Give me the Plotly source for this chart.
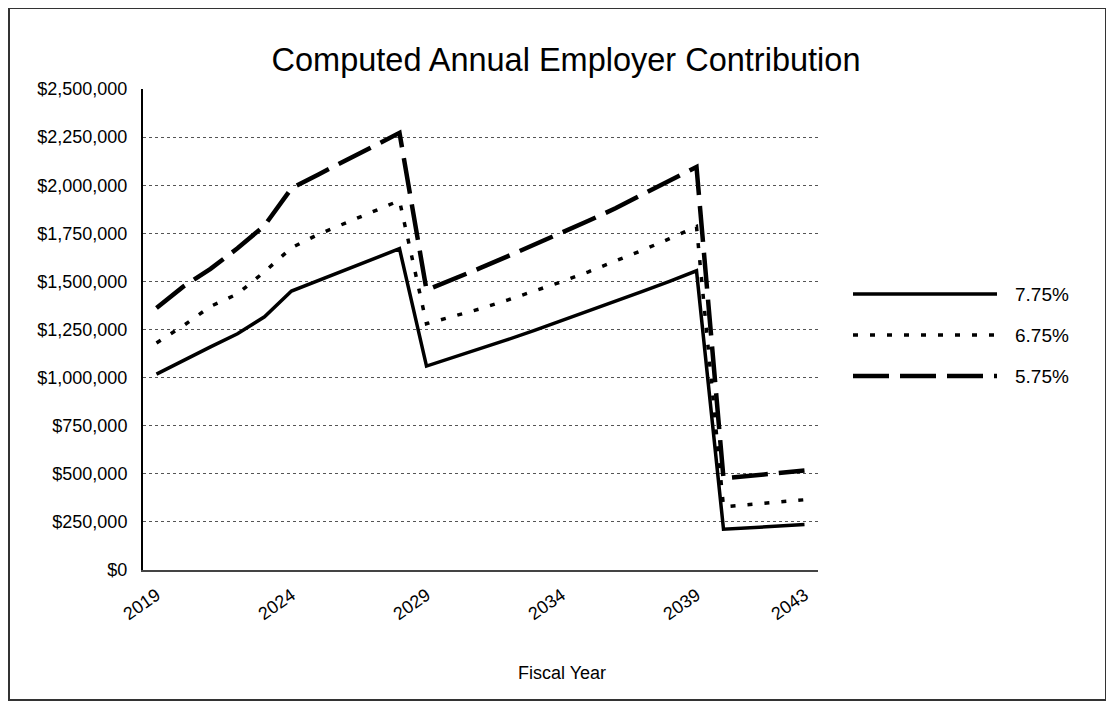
import plotly.graph_objects as go

# ---- data ----
years = [2019, 2020, 2021, 2022, 2023, 2024, 2025, 2026, 2027, 2028,
         2029, 2030, 2031, 2032, 2033, 2034, 2035, 2036, 2037, 2038,
         2039, 2040, 2041, 2042, 2043]

rate_775 = [1018000, 1090000, 1160000, 1228000, 1316000, 1450000, 1505000, 1560000, 1615000, 1670000,
            1060000, 1105000, 1150000, 1197000, 1245000, 1295000, 1345000, 1395000, 1448000, 1500000,
            1555000, 212000, 220000, 228000, 236000]

rate_675 = [1180000, 1270000, 1370000, 1435000, 1550000, 1675000, 1745000, 1805000, 1862000, 1920000,
            1280000, 1318000, 1358000, 1403000, 1450000, 1498000, 1550000, 1605000, 1662000, 1722000,
            1785000, 328000, 340000, 352000, 365000]

rate_575 = [1362000, 1474000, 1565000, 1672000, 1790000, 1984000, 2056000, 2128000, 2200000, 2272000,
            1455000, 1510000, 1570000, 1630000, 1690000, 1750000, 1815000, 1880000, 1950000, 2020000,
            2095000, 476000, 489000, 503000, 517000]

series_names = ["7.75%", "6.75%", "5.75%"]
x_tick_years = [2019, 2024, 2029, 2034, 2039, 2043]
y_tick_values = [0, 250000, 500000, 750000, 1000000, 1250000, 1500000,
                 1750000, 2000000, 2250000, 2500000]
title_text = "Computed Annual Employer Contribution"
x_title = "Fiscal Year"

# ---- styles ----
FONT = "Liberation Sans, Arial, sans-serif"
styles = [
    dict(color="black", width=3.5, dash="solid"),
    dict(color="black", width=3.5, dash="5px,12px"),
    dict(color="black", width=4.5, dash="36px,11px"),
]
series_values = [rate_775, rate_675, rate_575]

fig = go.Figure()
for name, vals, st in zip(series_names, series_values, styles):
    fig.add_trace(go.Scatter(x=years, y=vals, mode="lines", name=name,
                             line=st, showlegend=False, hoverinfo="skip"))

# The page body has an 8px margin; work in page pixels and convert.
OFF = 8
W, H = 1114 - OFF, 707 - OFF
L, R, T, B = 143 - OFF, 818 - OFF, 89 - OFF, 570 - OFF
pw, ph = R - L, B - T

def px_x(x):
    return (x - OFF - L) / pw

def px_y(y):
    return (B - (y - OFF)) / ph

shapes = []
annotations = []
# manual legend (long line samples like the original)
leg_rows = [294, 335, 376]
for name, st, yy in zip(series_names, styles, leg_rows):
    shapes.append(dict(type="line", xref="paper", yref="paper",
                       x0=px_x(853), x1=px_x(997), y0=px_y(yy), y1=px_y(yy),
                       line=dict(color=st["color"], width=st["width"], dash=st["dash"])))
    annotations.append(dict(text=name, xref="paper", yref="paper",
                            x=px_x(1013), y=px_y(yy), xanchor="left", yanchor="middle",
                            showarrow=False, font=dict(family=FONT, size=19, color="black")))

# x-axis title
annotations.append(dict(text=x_title, xref="paper", yref="paper",
                        x=px_x(562), y=px_y(673), xanchor="center", yanchor="middle",
                        showarrow=False, font=dict(family=FONT, size=18, color="black")))

# outer chart frame
shapes.append(dict(type="rect", xref="paper", yref="paper",
                   x0=px_x(9), x1=px_x(1106), y0=px_y(700), y1=px_y(8),
                   line=dict(color="#333333", width=2), layer="below"))

fig.update_layout(
    width=W, height=H,
    margin=dict(l=L, r=W - R, t=T, b=H - B, autoexpand=False),
    paper_bgcolor="white", plot_bgcolor="white",
    font=dict(family=FONT, color="black"),
    title=dict(text=title_text, x=px_x(566), xref="paper", xanchor="center",
               y=1 - (60 - OFF) / H, yref="container", yanchor="middle",
               font=dict(family=FONT, size=32.5, color="black")),
    shapes=shapes, annotations=annotations,
    hovermode=False,
)

fig.update_xaxes(
    range=[2018.5, 2043.5],
    tickvals=x_tick_years, ticktext=[str(v) for v in x_tick_years],
    tickangle=-35, tickfont=dict(family=FONT, size=18, color="black"),
    showgrid=False, zeroline=False,
    showline=True, linecolor="#444444", linewidth=1.5,
    ticks="", ticklabelstandoff=6, automargin=False,
)

fig.update_yaxes(
    range=[0, 2500000],
    tickvals=y_tick_values, ticktext=["${:,}".format(v) for v in y_tick_values],
    tickfont=dict(family=FONT, size=18, color="black"),
    showgrid=True, gridcolor="#555555", gridwidth=1, griddash="dot",
    zeroline=False,
    showline=True, linecolor="black", linewidth=2,
    ticks="", ticklabelstandoff=10, automargin=False,
)

fig.write_html("out.html")
